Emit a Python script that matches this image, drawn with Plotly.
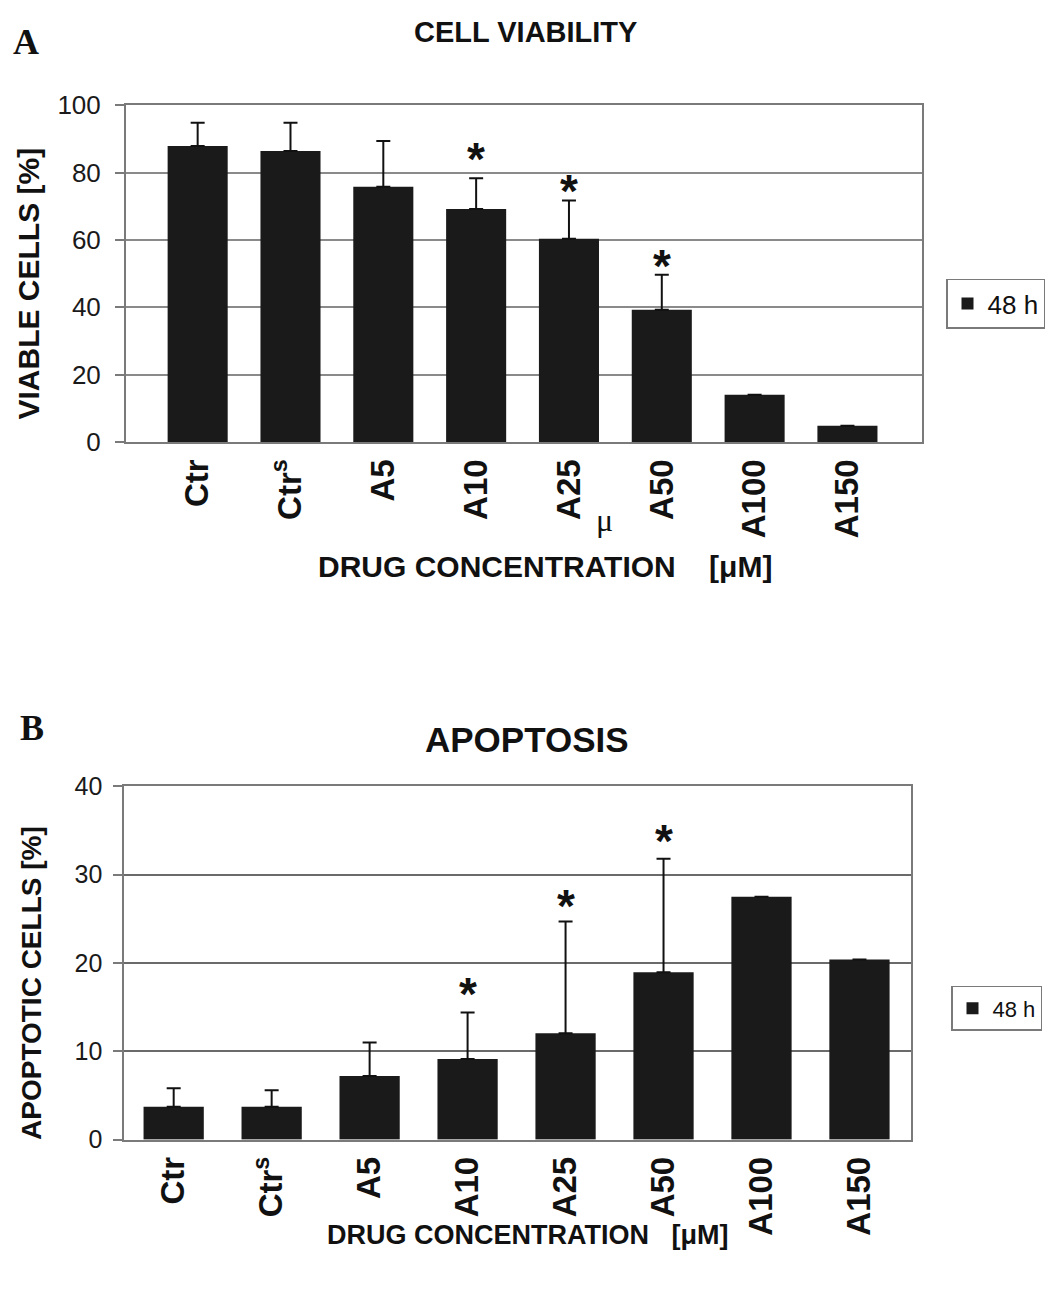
import plotly.graph_objects as go

W, H = 1063, 1295

categories = ["Ctr", "Ctr<sup>s</sup>", "A5", "A10", "A25", "A50", "A100", "A150"]

# Panel A: cell viability
viab_mean = [87.9, 86.4, 75.8, 69.2, 60.4, 39.3, 14.1, 4.9]
viab_err = [6.9, 8.4, 13.6, 9.1, 11.3, 10.4, None, None]
viab_star = [None, None, None, 85.2, 75.6, 53.6, None, None]

# Panel B: apoptosis
apo_mean = [3.73, 3.73, 7.2, 9.12, 12.06, 18.95, 27.5, 20.4]
apo_err = [2.1, 1.87, 3.8, 5.28, 12.64, 12.85, None, None]
apo_star = [None, None, None, 16.9, 26.9, 34.3, None, None]

y_ticks_a = [0, 20, 40, 60, 80, 100]
y_ticks_b = [0, 10, 20, 30, 40]

SANS = "Liberation Sans, Arial, sans-serif"
SERIF = "Liberation Serif, Times New Roman, serif"
BAR = "#1a1a1a"

# reference-pixel -> paper coordinates (with empirical compensation of page offset)
def px(x):
    return (x - 8) / W

def py(y):
    return 1 - ((y - 20.9) / 0.979) / H

fig = go.Figure()

def lower(errs):
    return [0 if e is not None else None for e in errs]

fig.add_trace(go.Bar(
    x=categories, y=viab_mean, name="48 h", xaxis="x", yaxis="y",
    marker=dict(color=BAR, line=dict(width=0)), width=0.647,
    error_y=dict(type="data", array=viab_err, arrayminus=lower(viab_err),
                 symmetric=False, color="#111111", thickness=2, width=7),
    legend="legend",
))
fig.add_trace(go.Bar(
    x=categories, y=apo_mean, name="48 h", xaxis="x2", yaxis="y2",
    marker=dict(color=BAR, line=dict(width=0)), width=0.615,
    error_y=dict(type="data", array=apo_err, arrayminus=lower(apo_err),
                 symmetric=False, color="#111111", thickness=2, width=7),
    legend="legend2",
))

annotations = []
for cat, s in zip(categories, viab_star):
    if s is not None:
        annotations.append(dict(x=cat, y=s, xref="x", yref="y", text="<b>*</b>", showarrow=False,
                                font=dict(family=SANS, size=46, color="#111111"),
                                yanchor="middle", yshift=-4))
for cat, s in zip(categories, apo_star):
    if s is not None:
        annotations.append(dict(x=cat, y=s, xref="x2", yref="y2", text="<b>*</b>", showarrow=False,
                                font=dict(family=SANS, size=46, color="#111111"),
                                yanchor="middle", yshift=-4))

def txt(x, y, text, size, family=SANS, bold=True, angle=0, color="#111111"):
    t = f"<b>{text}</b>" if bold else text
    annotations.append(dict(x=px(x), y=py(y), xref="paper", yref="paper", text=t,
                            showarrow=False, textangle=angle, xanchor="center",
                            yanchor="middle", font=dict(family=family, size=size, color=color)))

txt(26, 40, "A", 36, family=SERIF)
txt(32, 727, "B", 36, family=SERIF)
txt(525, 30, "CELL VIABILITY", 29)
txt(527, 739, "APOPTOSIS", 35)
txt(29, 282, "VIABLE CELLS [%]", 30, angle=-90)
txt(32, 983, "APOPTOTIC CELLS [%]", 28, angle=-90)
txt(545, 566, "DRUG CONCENTRATION\u00a0\u00a0\u00a0\u00a0[μM]", 30)
txt(527, 1236, "DRUG CONCENTRATION\u00a0\u00a0\u00a0[μM]", 27)
txt(604, 519, "μ", 32, family=SERIF, bold=False)

grid_a = "#8a8a8a"
grid_b = "#6a6a6a"

def xaxis(domain, rng, anchor):
    return dict(domain=domain, range=rng, anchor=anchor, type="category",
                showgrid=False, showline=True, linecolor="#7a7a7a", linewidth=2, mirror=True,
                ticks="", tickangle=-90, ticklabelstandoff=2,
                tickfont=dict(family=SANS, size=33, color="#111111"),
                tickprefix="<b>", ticksuffix="</b>", fixedrange=True)

def yaxis(domain, rng, tickvals, anchor, gridc, fsize, standoff):
    return dict(domain=domain, range=rng, anchor=anchor, tickvals=tickvals,
                showgrid=True, gridcolor=gridc, gridwidth=1.5,
                showline=True, linecolor="#7a7a7a", linewidth=2, mirror=True,
                ticks="outside", ticklen=9, tickcolor="#7a7a7a", tickwidth=1.5,
                ticklabelstandoff=standoff, zeroline=False,
                tickfont=dict(family=SANS, size=fsize, color="#1a1a1a"), fixedrange=True)

fig.update_layout(
    width=W, height=H,
    margin=dict(l=0, r=0, t=0, b=0),
    paper_bgcolor="white", plot_bgcolor="white",
    xaxis=xaxis([px(126), px(921.7)], [-0.772, 7.8], "y"),
    yaxis=yaxis([py(441), py(103.3)], [0, 100], y_ticks_a, "x", grid_a, 26, 9),
    xaxis2=xaxis([px(124.3), px(911)], [-0.504, 7.526], "y2"),
    yaxis2=yaxis([py(1140), py(786)], [0, 40], y_ticks_b, "x2", grid_b, 25, 6),
    legend=dict(x=px(946), y=py(277), xanchor="left", yanchor="top",
                bordercolor="#7a7a7a", borderwidth=1.5, bgcolor="white",
                font=dict(family=SANS, size=26, color="#111111")),
    legend2=dict(x=px(951), y=py(986), xanchor="left", yanchor="top",
                 bordercolor="#7a7a7a", borderwidth=1.5, bgcolor="white",
                 font=dict(family=SANS, size=22, color="#111111")),
    annotations=annotations,
    showlegend=True,
)

fig.write_html("out.html")
